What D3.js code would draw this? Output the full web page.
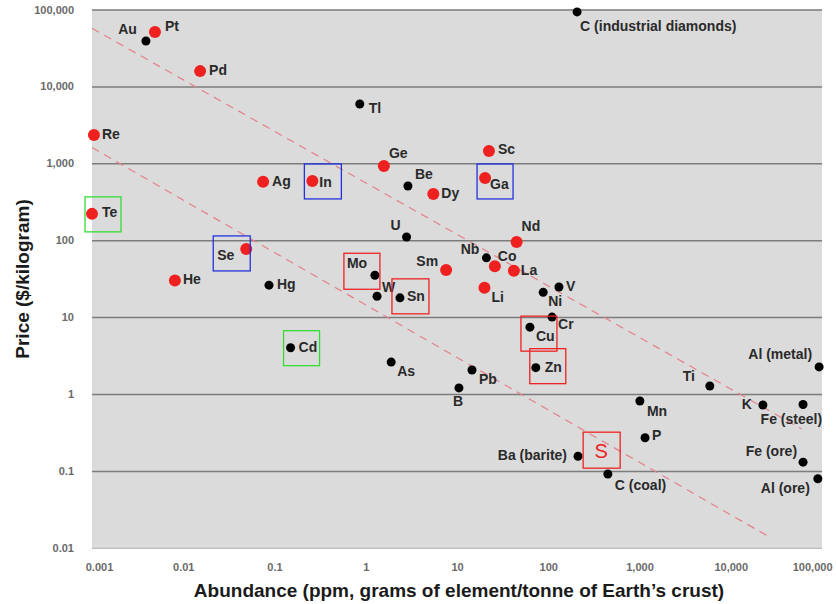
<!DOCTYPE html>
<html>
<head>
<meta charset="utf-8">
<script src="https://cdn.jsdelivr.net/npm/d3@7"></script>
<style>
  body { margin: 0; background: #fff; }
  svg { display: block; font-family: "Liberation Sans", Arial, sans-serif; }
  .lbl { font-size: 14px; font-weight: bold; fill: #2a2a2a; }
  .tick text { font-size: 11px; font-weight: bold; fill: #6a6a6a; }
</style>
</head>
<body>
<svg width="836" height="604"></svg>
<script>
// element, abundance (ppm), price ($/kg)
var names = ["Au", "Pt", "Pd", "Re", "Tl", "C (industrial diamonds)", "Ge", "Sc", "Ga", "In",
    "Be", "Dy", "Ag", "Te", "Se", "He", "Hg", "U", "Nd", "Nb",
    "Co", "La", "Sm", "Li", "Mo", "W", "Sn", "Cd", "As", "Pb",
    "B", "V", "Ni", "Cr", "Cu", "Zn", "Al (metal)", "Ti", "Mn", "K",
    "Fe (steel)", "P", "Ba (barite)", "C (coal)", "Fe (ore)", "Al (ore)"];
var abundance = [0.0039, 0.0049, 0.0153, 0.00105, 0.86, 207, 1.58, 22.4, 20.3, 0.26,
    2.9, 5.5, 0.075, 0.001, 0.049, 0.0081, 0.087, 2.8, 45, 21,
    26, 42, 7.6, 20, 1.26, 1.33, 2.37, 0.15, 1.9, 14.6,
    10.5, 131, 88, 110, 63, 73, 93000, 5900, 1010, 22500,
    62000, 1150, 212, 450, 62000, 90000];
var price = [39000, 51000, 15800, 2340, 5900, 93000, 920, 1450, 645, 590,
    507, 400, 575, 220, 77, 30, 26, 110, 95, 59,
    46, 40, 41, 24, 35, 18.7, 17.8, 4.0, 2.6, 2.05,
    1.2, 24.6, 21, 10, 7.4, 2.2, 2.25, 1.27, 0.81, 0.72,
    0.73, 0.27, 0.155, 0.091, 0.13, 0.079];
var redElements = ["Pt", "Pd", "Re", "Ge", "Sc", "Ga", "In", "Dy", "Ag", "Te", "Se", "He",
    "Nd", "Co", "La", "Sm", "Li"];

// label placement: dx, dy, anchor
var labelPos = [[-9, -7, "end"], [10, -1, "start"], [9, 4, "start"], [8, 4, "start"], [9, 9, "start"],
    [3, 19, "start"], [5, -8, "start"], [9, 3, "start"], [5, 11, "start"], [7, 6, "start"],
    [7, -7, "start"], [8, 4, "start"], [9, 4, "start"], [10, 3, "start"], [-29, 11, "start"],
    [8, 4, "start"], [8, 4, "start"], [-6, -7, "end"], [5, -11, "start"], [-7, -4, "end"],
    [3, -5, "start"], [7, 4, "start"], [-8, -4, "end"], [7, 14, "start"], [-28, -7, "start"],
    [5, -4, "start"], [7, 3, "start"], [8, 4, "start"], [6, 14, "start"], [7, 14, "start"],
    [-6, 18, "start"], [7, 4, "start"], [5, 14, "start"], [6, 12, "start"], [6, 14, "start"],
    [9, 4, "start"], [-7, -8, "end"], [-15, -5, "end"], [7, 15, "start"], [-11, 4, "end"],
    [19, 19, "end"], [7, 2, "start"], [-11, 4, "end"], [7, 16, "start"], [-6, -6, "end"],
    [-8, 14, "end"]];

// highlight boxes round some elements: colour, then left, top, width, height around the point
var boxElements = ["In", "Ga", "Se", "Te", "Cd", "Mo", "Sn", "Cu", "Zn"];
var boxColors = ["#2233dd", "#2233dd", "#2233dd", "#33dd33", "#33dd33", "#ee2222", "#ee2222", "#ee2222", "#ee2222"];
var boxRects = [[-8, -17, 37, 35], [-8, -14, 36, 35], [-33, -13, 37, 35], [-7, -17, 36, 35], [-7, -17, 36, 35],
    [-31, -22, 36, 36], [-8, -19, 37, 35], [-9, -11, 36, 35], [-6, -19, 36, 35]];
var sMarker = [380, 0.186];

// dashed trend lines [abundance, price]
var trendLines = [
    [[0.001, 57000], [60000, 0.35]],
    [[0.001, 1600], [26000, 0.014]]
];

var xTicks = [0.001, 0.01, 0.1, 1, 10, 100, 1000, 10000, 100000];
var yTicks = [0.01, 0.1, 1, 10, 100, 1000, 10000, 100000];

(function () {
    'use strict';
    var svg = d3.select("svg");
    var left = 92, right = 822, top = 9.5, bottom = 547.8;

    var x = d3.scaleLog().domain([0.001, 100000]).range([left, right]);
    var y = d3.scaleLog().domain([0.01, 100000]).range([bottom, top]);
    var fmt = d3.format(",");

    svg.append("rect")
        .attr("x", left).attr("y", top)
        .attr("width", right - left).attr("height", bottom - top)
        .attr("fill", "#dbdbdb");

    // grid lines
    svg.append("g")
        .attr("transform", "translate(" + left + ",0)")
        .call(d3.axisLeft(y).tickValues(yTicks).tickSize(-(right - left)).tickFormat(""))
        .call(function (g) { g.select(".domain").remove(); })
        .selectAll("line")
        .attr("stroke", function (d) { return d === 0.01 ? "#bdbdbd" : "#7c7c7c"; })
        .attr("stroke-width", 1.5);

    svg.append("g")
        .attr("transform", "translate(" + (left - 15) + ",0)")
        .call(d3.axisLeft(y).tickValues(yTicks).tickSize(0).tickFormat(fmt))
        .call(function (g) { g.select(".domain").remove(); });

    var xa = svg.append("g")
        .attr("transform", "translate(0," + (bottom + 12) + ")")
        .call(d3.axisBottom(x).tickValues(xTicks).tickSize(0).tickFormat(fmt))
        .call(function (g) { g.select(".domain").remove(); });
    // keep the end labels inside the page
    xa.selectAll(".tick text")
        .filter(function (d) { return d === 0.001; })
        .attr("dx", 7);
    xa.selectAll(".tick text")
        .filter(function (d) { return d === 100000; })
        .attr("text-anchor", "end").attr("dx", 10);

    // trend lines
    var line = d3.line()
        .x(function (d) { return x(d[0]); })
        .y(function (d) { return y(d[1]); });
    svg.append("g").selectAll("path")
        .data(trendLines)
        .enter().append("path")
        .attr("d", line)
        .attr("fill", "none")
        .attr("stroke", "#e4808a")
        .attr("stroke-width", 1.2)
        .attr("stroke-dasharray", "8,6");

    var points = names.map(function (n, i) {
        return { name: n, a: abundance[i], p: price[i], red: redElements.indexOf(n) >= 0, lp: labelPos[i] };
    });
    var byName = {};
    points.forEach(function (d) { byName[d.name] = d; });

    svg.append("g").selectAll("circle")
        .data(points)
        .enter().append("circle")
        .attr("cx", function (d) { return x(d.a); })
        .attr("cy", function (d) { return y(d.p); })
        .attr("r", function (d) { return d.red ? 6 : 4.5; })
        .attr("fill", function (d) { return d.red ? "#ee2020" : "#000"; });

    svg.append("g").selectAll("text")
        .data(points)
        .enter().append("text")
        .attr("class", "lbl")
        .attr("x", function (d) { return x(d.a) + d.lp[0]; })
        .attr("y", function (d) { return y(d.p) + d.lp[1]; })
        .attr("text-anchor", function (d) { return d.lp[2]; })
        .text(function (d) { return d.name; });

    svg.append("g").selectAll("rect")
        .data(boxElements)
        .enter().append("rect")
        .attr("x", function (d, i) { return x(byName[d].a) + boxRects[i][0]; })
        .attr("y", function (d, i) { return y(byName[d].p) + boxRects[i][1]; })
        .attr("width", function (d, i) { return boxRects[i][2]; })
        .attr("height", function (d, i) { return boxRects[i][3]; })
        .attr("fill", "none")
        .attr("stroke", function (d, i) { return boxColors[i]; })
        .attr("stroke-width", 1.3);

    svg.append("rect")
        .attr("x", x(sMarker[0]) - 18).attr("y", y(sMarker[1]) - 18)
        .attr("width", 37).attr("height", 36)
        .attr("fill", "none").attr("stroke", "#ee2222").attr("stroke-width", 1.3);
    svg.append("text")
        .attr("x", x(sMarker[0])).attr("y", y(sMarker[1]) + 8)
        .attr("text-anchor", "middle")
        .attr("font-size", 20).attr("fill", "#ee2222")
        .text("S");

    svg.append("text")
        .attr("x", 459).attr("y", 597)
        .attr("text-anchor", "middle")
        .attr("font-size", 19).attr("font-weight", "bold").attr("fill", "#1a1a1a")
        .text("Abundance (ppm, grams of element/tonne of Earth\u2019s crust)");

    svg.append("text")
        .attr("transform", "translate(29,279) rotate(-90)")
        .attr("text-anchor", "middle")
        .attr("font-size", 19).attr("font-weight", "bold").attr("fill", "#1a1a1a")
        .text("Price ($/kilogram)");
}());
</script>
</body>
</html>
